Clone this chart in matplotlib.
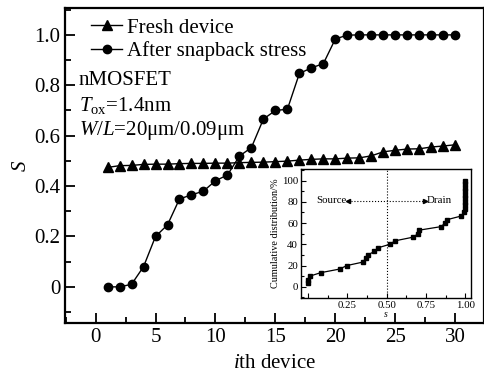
import matplotlib.pyplot as plt
from matplotlib.ticker import MultipleLocator, FuncFormatter

plt.rcParams['font.family'] = ['Liberation Serif', 'DejaVu Serif']
plt.rcParams['mathtext.fontset'] = 'custom'
plt.rcParams['mathtext.rm'] = 'Liberation Serif'
plt.rcParams['mathtext.it'] = 'Liberation Serif:italic'

# main data
device = list(range(1, 31))
fresh = [0.474, 0.481, 0.482, 0.486, 0.487, 0.487, 0.489, 0.490, 0.490, 0.491,
         0.491, 0.493, 0.494, 0.495, 0.497, 0.499, 0.503, 0.506, 0.508, 0.508,
         0.511, 0.512, 0.520, 0.536, 0.542, 0.547, 0.548, 0.555, 0.559, 0.564]
stressed = [0.0, 0.0, 0.01, 0.08, 0.20, 0.246, 0.349, 0.365, 0.38, 0.421,
            0.444, 0.519, 0.553, 0.666, 0.700, 0.705, 0.847, 0.869, 0.886, 0.984,
            0.999, 1.0, 1.0, 1.0, 1.0, 1.0, 1.0, 1.0, 1.0, 1.0]

# inset data (cumulative distribution of s)
inset_s = [0.0, 0.0, 0.01, 0.08, 0.20, 0.246, 0.349, 0.365, 0.38, 0.421,
           0.444, 0.519, 0.553, 0.666, 0.700, 0.705, 0.847, 0.869, 0.886, 0.975,
           0.99, 1.0, 1.0, 1.0, 1.0, 1.0, 1.0, 1.0, 1.0, 1.0]
inset_cum = [3.3, 6.7, 10.0, 13.3, 16.7, 20.0, 23.3, 26.7, 30.0, 33.3,
             36.7, 40.0, 43.3, 46.7, 50.0, 53.3, 56.7, 60.0, 63.3, 66.7,
             70.0, 73.3, 76.7, 80.0, 83.3, 86.7, 90.0, 93.3, 96.7, 100.0]

fig = plt.figure(figsize=(4.85, 3.72), dpi=100)
ax = fig.add_axes([0.134, 0.132, 0.864, 0.846])

ax.plot(device, fresh, '-^', color='k', lw=1, ms=6.5, label='Fresh device')
ax.plot(device, stressed, '-o', color='k', lw=1, ms=6, label='After snapback stress')

ax.set_xlim(-2.55, 32.4)
ax.set_ylim(-0.143, 1.106)
ax.xaxis.set_major_locator(MultipleLocator(5))
ax.xaxis.set_minor_locator(MultipleLocator(2.5))
ax.yaxis.set_major_locator(MultipleLocator(0.2))
ax.yaxis.set_minor_locator(MultipleLocator(0.1))
ax.yaxis.set_major_formatter(FuncFormatter(lambda v, p: '0' if abs(v) < 1e-9 else '%.1f' % v))
ax.tick_params(which='both', direction='in', top=False, right=False, labelsize=15)
ax.tick_params(which='major', length=7, width=1.3)
ax.tick_params(which='minor', length=4, width=1.3)
for sp in ax.spines.values():
    sp.set_linewidth(1.6)

ax.set_xlabel('$i$th device', fontsize=15, labelpad=5)
ax.set_ylabel('$S$', fontsize=15, labelpad=2)

ax.legend(loc='upper left', bbox_to_anchor=(0.062, 0.969), frameon=False,
          fontsize=15, handlelength=1.5, handletextpad=0.25, labelspacing=0.17,
          borderaxespad=0, borderpad=0)

ax.text(0.033, 0.771, 'nMOSFET', transform=ax.transAxes, fontsize=15, va='center')
ax.text(0.033, 0.692, '$T_{\\mathrm{ox}}$=1.4nm', transform=ax.transAxes, fontsize=15, va='center')
ax.text(0.033, 0.610, '$W$/$L$=20\u03bcm/0.09\u03bcm', transform=ax.transAxes, fontsize=15, va='center')

# inset
ins = fig.add_axes([0.62, 0.199, 0.351, 0.347])
ins.plot(inset_s, inset_cum, '-s', color='k', lw=0.9, ms=2.8)
ins.axvline(0.5, color='k', ls=':', lw=0.8)
ins.plot([0.255, 0.745], [81, 81], color='k', ls=':', lw=0.8)
ins.plot([0.255], [81], marker='<', color='k', ms=3)
ins.plot([0.745], [81], marker='>', color='k', ms=3)
ins.text(0.245, 81, 'Source', fontsize=7.8, ha='right', va='center')
ins.text(0.755, 81, 'Drain', fontsize=7.8, ha='left', va='center')

ins.set_xlim(-0.047, 1.035)
ins.set_ylim(-10.5, 111)
ins.xaxis.set_major_locator(MultipleLocator(0.25))
ins.xaxis.set_minor_locator(MultipleLocator(0.125))
ins.xaxis.set_major_formatter(FuncFormatter(lambda v, p: '' if abs(v) < 1e-9 else '%.2f' % v))
ins.yaxis.set_major_locator(MultipleLocator(20))
ins.yaxis.set_minor_locator(MultipleLocator(10))
ins.tick_params(which='both', direction='in', labelsize=7.8, width=0.8, pad=2)
ins.tick_params(which='major', length=3.5)
ins.tick_params(which='minor', length=2)
for sp in ins.spines.values():
    sp.set_linewidth(1)
ins.set_xlabel('$s$', fontsize=7, labelpad=0.5)
ins.set_ylabel('Cumulative distribution/%', fontsize=7.4, labelpad=1)

fig.savefig('out.png', dpi=100)
